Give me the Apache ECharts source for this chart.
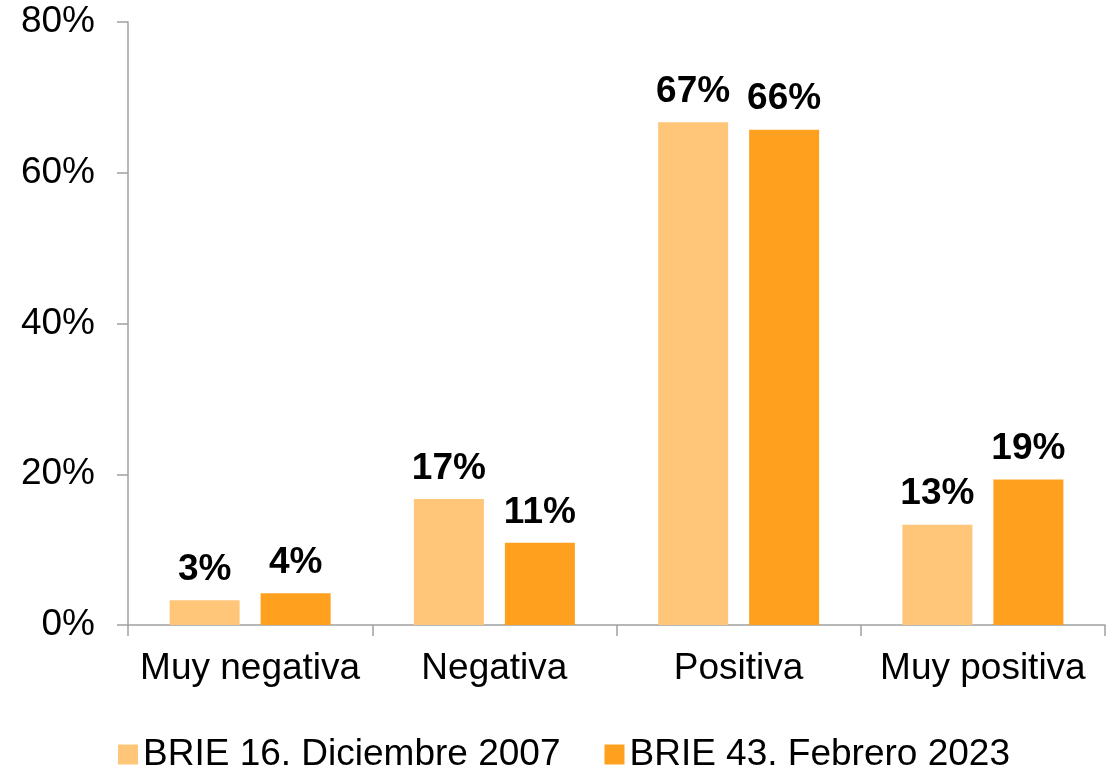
<!DOCTYPE HTML>
<html>
    <head>
        <title>BRIE</title>
        <meta charset="utf-8">
        <script src="https://cdn.jsdelivr.net/npm/echarts@6/dist/echarts.min.js"></script>
        <style>
            body { margin: 0; background: #fff; }
            #chart { width: 1117px; height: 769px; }
        </style>
    </head>
    <body>
        <div id="chart"></div>
        <script>
        // data
        var categories = ['Muy negativa', 'Negativa', 'Positiva', 'Muy positiva'];
        var brie16 = [3.3, 16.7, 66.7, 13.3];
        var brie43 = [4.2, 10.9, 65.7, 19.3];
        var seriesNames = ['BRIE 16. Diciembre 2007', 'BRIE 43. Febrero 2023'];
        var yTicks = [0, 20, 40, 60, 80];

        var font = 'Liberation Sans, Arial, sans-serif';
        var chart = echarts.init(document.getElementById('chart'));

        function barSeries(name, data, color) {
            return {
                name: name,
                type: 'bar',
                data: data,
                barWidth: 70,
                barGap: '30%',
                itemStyle: { color: color },
                label: {
                    show: true,
                    position: 'top',
                    distance: 12,
                    fontFamily: font,
                    fontSize: 37,
                    fontWeight: 'bold',
                    color: '#000',
                    formatter: function (p) { return Math.round(p.value) + '%'; }
                }
            };
        }

        chart.setOption({
            animation: false,
            textStyle: { fontFamily: font },
            grid: { left: 128, right: 12, top: 22, bottom: 144 },
            legend: {
                top: 731,
                left: 113,
                itemWidth: 20,
                itemHeight: 20,
                itemGap: 44,
                icon: 'rect',
                textStyle: { fontFamily: font, fontSize: 37, color: '#000' },
                data: seriesNames
            },
            xAxis: {
                type: 'category',
                data: categories,
                axisLine: { lineStyle: { color: '#a0a0a0', width: 1.5 } },
                axisTick: { show: true, interval: 0, length: 11, lineStyle: { color: '#a0a0a0', width: 1.5 } },
                axisLabel: { interval: 0, fontFamily: font, fontSize: 37, color: '#000', margin: 25 }
            },
            yAxis: {
                type: 'value',
                min: yTicks[0],
                max: yTicks[yTicks.length - 1],
                interval: 20,
                axisLine: { show: true, lineStyle: { color: '#a0a0a0', width: 1.5 } },
                axisTick: { show: true, length: 11, lineStyle: { color: '#a0a0a0', width: 1.5 } },
                splitLine: { show: false },
                axisLabel: {
                    fontFamily: font, fontSize: 37, color: '#000', margin: 33,
                    formatter: '{value}%'
                }
            },
            series: [
                barSeries(seriesNames[0], brie16, '#ffc67a'),
                barSeries(seriesNames[1], brie43, '#ffa11f')
            ]
        });
        </script>
    </body>
</html>
